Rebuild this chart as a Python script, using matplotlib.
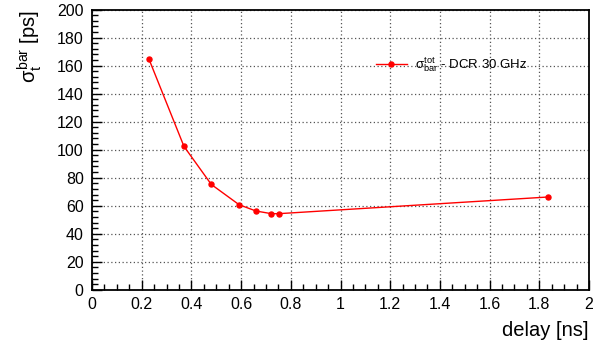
import matplotlib
matplotlib.use("Agg")
import matplotlib.pyplot as plt
from matplotlib.ticker import MultipleLocator, FuncFormatter

plt.rcParams['font.family'] = ['Liberation Sans', 'DejaVu Sans']
plt.rcParams['mathtext.fontset'] = 'custom'
plt.rcParams['mathtext.rm'] = 'Liberation Sans'
plt.rcParams['mathtext.it'] = 'Liberation Sans'
plt.rcParams['mathtext.bf'] = 'Liberation Sans:bold'

# data
delay_ns = [0.229, 0.370, 0.480, 0.592, 0.660, 0.722, 0.751, 1.834]
sigma_ps = [164.8, 102.4, 75.2, 60.7, 56.2, 54.3, 54.3, 66.2]
series_label = r'$\sigma_{\mathrm{bar}}^{\mathrm{tot}}$ - DCR 30 GHz'
x_title = 'delay [ns]'
y_title = r'$\sigma_{\mathrm{t}}^{\mathrm{bar}}$ [ps]'

fig = plt.figure(figsize=(6.0, 3.44), dpi=100)
ax = fig.add_axes([92/600, 1-289.7/344, 497/600, 280/344])

ax.plot(delay_ns, sigma_ps, color='#ff0000', lw=1.0, marker='o', ms=3.6,
        mec='#ff0000', mfc='#ff0000', label=series_label, zorder=3)

ax.set_xlim(0, 2)
ax.set_ylim(0, 200)
ax.xaxis.set_major_locator(MultipleLocator(0.2))
ax.xaxis.set_minor_locator(MultipleLocator(0.05))
ax.yaxis.set_major_locator(MultipleLocator(20))
ax.yaxis.set_minor_locator(MultipleLocator(4))
ax.xaxis.set_major_formatter(FuncFormatter(lambda v, p: '%g' % round(v, 2)))

ax.tick_params(which='major', direction='in', length=7, width=1.0, labelsize=11.5,
               top=False, right=False)
ax.tick_params(which='minor', direction='in', length=4, width=1.0, top=False, right=False)
ax.tick_params(axis='y', which='major', pad=6)
ax.tick_params(axis='x', which='major', pad=5)

ax.grid(True, which='major', linestyle=(0, (1, 2)), color='#555555', lw=0.9)
for s in ax.spines.values():
    s.set_linewidth(1.3)
    s.set_color('black')

ax.set_xlabel(x_title, fontsize=14.5, loc='right', labelpad=7)
ax.set_ylabel(y_title, fontsize=14.5, loc='top', labelpad=9)

ax.legend(loc='center left', bbox_to_anchor=(0.571, 0.802), frameon=False,
          fontsize=9.5, handlelength=2.35, handletextpad=0.6, borderpad=0,
          borderaxespad=0)

fig.savefig('out.png', dpi=100)
